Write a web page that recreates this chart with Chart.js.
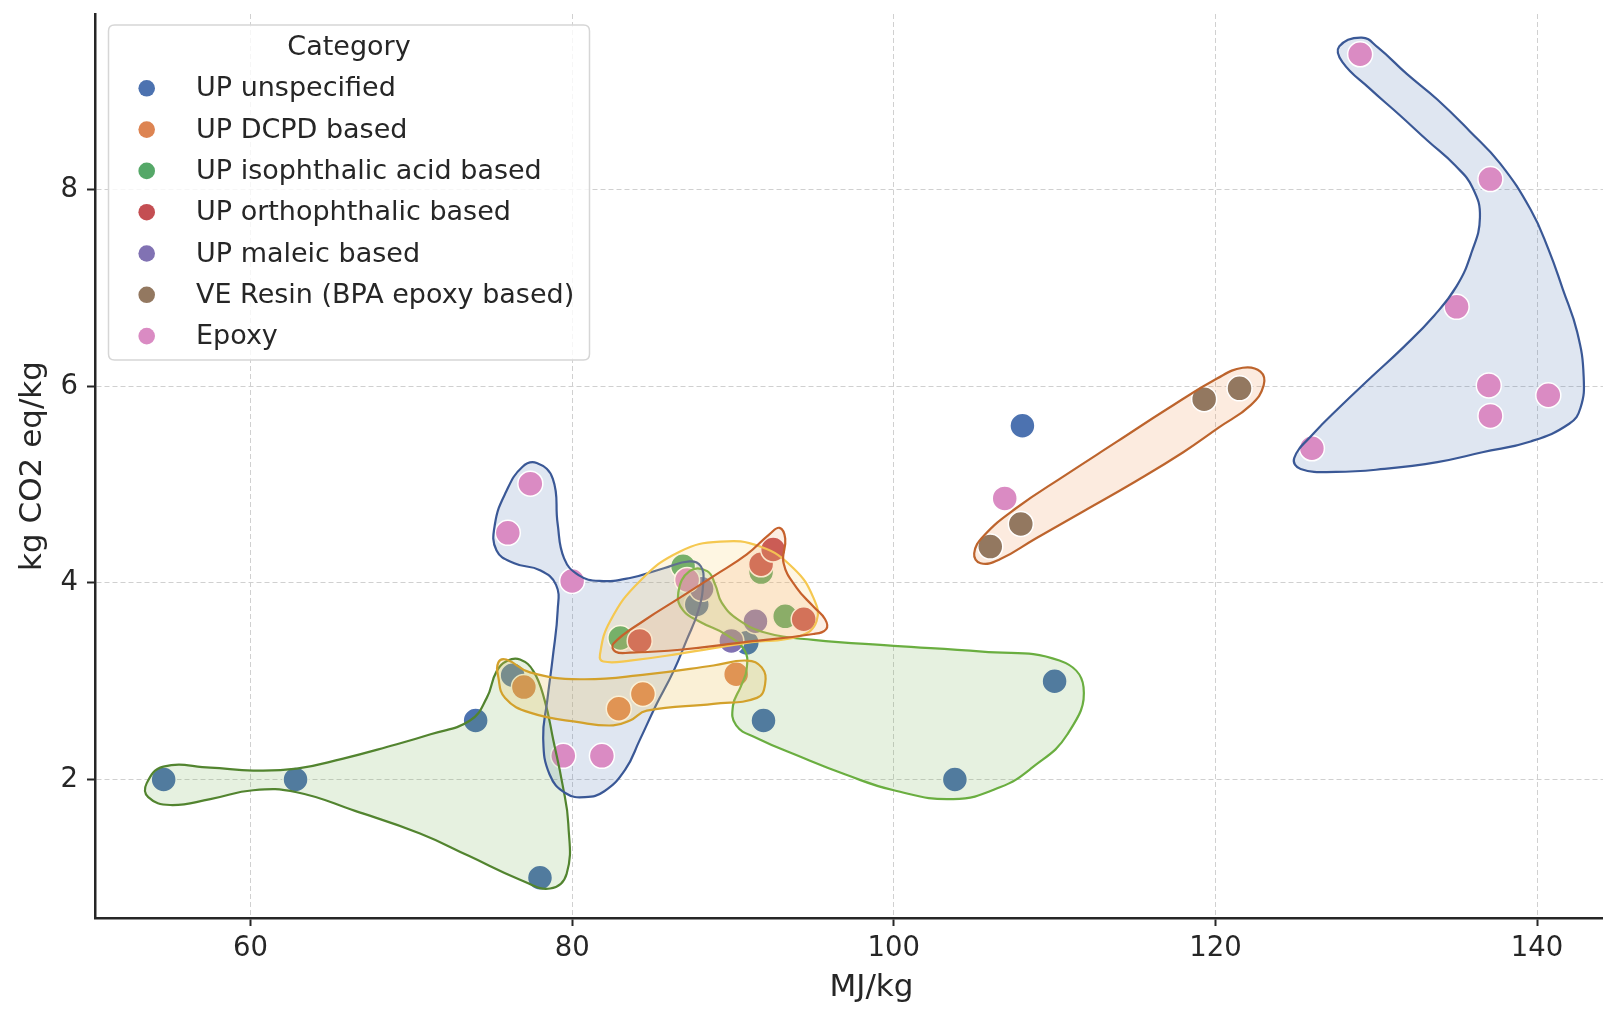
<!DOCTYPE html>
<html>
<head>
<meta charset="utf-8">
<script src="https://cdn.jsdelivr.net/npm/chart.js@4/dist/chart.umd.min.js"></script>
<style>
  html, body { margin: 0; padding: 0; background: #ffffff; overflow: hidden; width: 1603px; height: 1010px; }
  #wrap { width: 1603px; height: 1010px; overflow: hidden; position: relative; }
  canvas { display: block; }
</style>
</head>
<body>
<div id="wrap"><canvas id="c" width="1700" height="1010"></canvas></div>
<script>
// ---------------- DATA ----------------
const legendTitle = 'Category';
const categories = ['UP unspecified', 'UP DCPD based', 'UP isophthalic acid based', 'UP orthophthalic based', 'UP maleic based', 'VE Resin (BPA epoxy based)', 'Epoxy'];
const categoryColors = ['#4C72B0', '#DD8452', '#55A868', '#C44E52', '#8172B3', '#937860', '#DA8BC3'];

const upUnspecifiedX = [54.6, 62.8, 74.0, 78.0, 76.3, 87.75, 90.86, 91.9, 103.8, 110.0, 108.0];
const upUnspecifiedY = [2.0, 2.0, 2.6, 1.0, 3.06, 3.78, 3.39, 2.6, 2.0, 3.0, 5.6];
const upDcpdX = [77.0, 82.9, 84.4, 90.2];
const upDcpdY = [2.94, 2.72, 2.87, 3.07];
const upIsoX = [83.0, 86.9, 91.75, 93.25];
const upIsoY = [3.44, 4.17, 4.11, 3.66];
const upOrthoX = [84.2, 91.75, 92.5, 94.4];
const upOrthoY = [3.41, 4.19, 4.34, 3.63];
const upMaleicX = [89.9, 91.4, 88.05];
const upMaleicY = [3.41, 3.61, 3.94];
const veResinX = [106.0, 107.9, 119.3, 121.5];
const veResinY = [4.37, 4.60, 5.87, 5.98];
const epoxyX = [77.4, 76.0, 80.0, 79.45, 81.85, 87.15, 106.9, 129.0, 137.1, 135.0, 137.0, 137.1, 140.7, 126.0];
const epoxyY = [5.01, 4.51, 4.02, 2.24, 2.24, 4.03, 4.86, 9.38, 8.11, 6.81, 6.01, 5.70, 5.91, 5.37];

const xTickValues = [60, 80, 100, 120, 140];
const yTickValues = [2, 4, 6, 8];
const xLabel = 'MJ/kg';
const yLabel = 'kg CO2 eq/kg';

// group outlines (closed smooth curves), in data units
const blobEpoxyRight = [[127.7,9.46],[129.1,9.55],[130.1,9.45],[131.9,9.18],[133.8,8.92],[135.8,8.60],[137.7,8.27],[139.6,7.80],[140.7,7.40],[141.6,6.99],[142.5,6.55],[142.9,6.10],[142.7,5.78],[142.0,5.62],[139.6,5.44],[136.6,5.33],[133.8,5.23],[130.5,5.16],[127.5,5.13],[125.3,5.16],[124.9,5.27],[126.1,5.52],[127.8,5.80],[129.6,6.08],[131.7,6.40],[133.6,6.72],[135.0,7.02],[135.9,7.35],[136.45,7.72],[136.0,8.02],[134.9,8.25],[133.2,8.50],[131.4,8.77],[129.6,9.03],[127.9,9.30]];
const blobVeResin = [[105.0,4.30],[105.6,4.48],[107.6,4.76],[110.7,5.10],[113.9,5.44],[117.0,5.77],[120.1,6.08],[121.7,6.19],[122.8,6.15],[123.0,6.01],[122.2,5.81],[120.2,5.58],[118.0,5.33],[115.0,5.03],[111.8,4.73],[108.8,4.45],[106.6,4.24],[105.4,4.20]];
const blobGreenLeft = [[53.54,1.96],[54.58,2.13],[57.5,2.12],[60.17,2.09],[62.87,2.11],[65.7,2.21],[68.47,2.33],[71.2,2.46],[73.65,2.60],[74.69,2.83],[75.3,3.10],[76.0,3.21],[76.76,3.22],[77.6,3.10],[78.3,2.80],[78.83,2.40],[79.4,1.95],[79.76,1.55],[79.66,1.04],[78.63,0.89],[76.76,0.98],[73.6,1.22],[70.54,1.45],[66.5,1.68],[62.87,1.87],[60.17,1.89],[57.5,1.80],[55.0,1.74],[53.64,1.82]];
const blobGreenRight = [[87.3,4.12],[88.4,4.12],[88.9,3.98],[89.3,3.80],[90.3,3.63],[92.1,3.49],[95.0,3.42],[100.0,3.36],[105.5,3.30],[110.3,3.21],[111.8,2.94],[110.8,2.46],[108.6,2.12],[106.6,1.92],[103.7,1.80],[100.0,1.89],[97.0,2.05],[94.2,2.23],[91.5,2.42],[90.2,2.55],[90.0,2.75],[90.5,2.95],[90.85,3.12],[90.7,3.32],[89.5,3.48],[88.0,3.60],[86.9,3.72],[86.6,3.90]];
const blobBlueLeft = [[77.8,5.22],[78.8,5.06],[79.1,4.60],[79.5,4.25],[80.4,4.08],[81.7,4.02],[83.6,4.05],[85.7,4.15],[87.3,4.22],[88.0,4.17],[88.15,4.00],[87.85,3.72],[87.1,3.41],[86.3,3.10],[85.2,2.75],[84.2,2.40],[83.3,2.10],[82.0,1.88],[80.8,1.82],[79.6,1.86],[78.6,2.05],[78.2,2.42],[78.45,2.80],[78.8,3.25],[79.1,3.72],[79.0,3.98],[78.0,4.13],[76.4,4.20],[75.3,4.33],[75.2,4.60],[75.9,4.93],[76.9,5.18]];
const blobDcpd = [[75.41,3.19],[75.9,3.22],[77.38,3.09],[80.49,3.02],[84.64,3.07],[88.78,3.16],[90.86,3.21],[91.79,3.14],[92.0,2.97],[91.49,2.83],[88.78,2.77],[84.64,2.70],[83.6,2.60],[82.56,2.55],[80.49,2.58],[77.38,2.68],[75.83,2.83],[75.41,3.04]];
const blobYellow = [[81.73,3.27],[82.36,3.61],[84.22,4.02],[86.71,4.32],[89.2,4.42],[91.69,4.37],[93.76,4.15],[95.0,3.85],[95.2,3.61],[94.17,3.46],[90.86,3.39],[86.71,3.28],[83.6,3.21],[81.94,3.20]];
const blobRed = [[82.56,3.38],[84.5,3.62],[86.71,3.85],[88.8,4.07],[90.86,4.29],[92.3,4.50],[92.9,4.56],[93.25,4.45],[93.15,4.20],[93.96,3.95],[95.0,3.76],[95.73,3.63],[95.8,3.53],[95.0,3.48],[90.86,3.40],[86.71,3.32],[83.6,3.29],[82.7,3.30]];

// ---------------- BUILD ----------------
const seriesX = [upUnspecifiedX, upDcpdX, upIsoX, upOrthoX, upMaleicX, veResinX, epoxyX];
const seriesY = [upUnspecifiedY, upDcpdY, upIsoY, upOrthoY, upMaleicY, veResinY, epoxyY];

const blobs = [
  { pts: blobEpoxyRight, stroke: '#3a5896', fill: 'rgba(76,114,176,0.18)', under: true },
  { pts: blobVeResin,    stroke: '#bd642d', fill: 'rgba(240,165,110,0.22)', under: true },
  { pts: blobGreenLeft,  stroke: '#52842f', fill: 'rgba(106,170,70,0.17)', under: false },
  { pts: blobGreenRight, stroke: '#6aae40', fill: 'rgba(106,170,70,0.17)', under: false },
  { pts: blobBlueLeft,   stroke: '#3a5896', fill: 'rgba(76,114,176,0.18)', under: true },
  { pts: blobDcpd,       stroke: '#d3a12b', fill: 'rgba(235,195,90,0.25)', under: false },
  { pts: blobYellow,     stroke: '#f5c850', fill: 'rgba(250,210,110,0.2)', under: false },
  { pts: blobRed,        stroke: '#c6612c', fill: 'rgba(240,160,100,0.18)', under: false }
];

const datasets = [];
categories.forEach((name, i) => {
  datasets.push({
    type: 'scatter',
    label: name,
    data: seriesX[i].map((x, k) => ({ x: x, y: seriesY[i][k] })),
    backgroundColor: categoryColors[i],
    borderColor: '#ffffff',
    borderWidth: 1.5,
    pointRadius: 12.5,
    pointHoverRadius: 12.5,
    order: 20 - i
  });
});
blobs.forEach((b, i) => {
  const pts = b.pts.map(p => ({ x: p[0], y: p[1] }));
  if (b.under) {
    datasets.push({
      type: 'line', label: 'groupfill' + i, isBlob: true, data: pts,
      borderColor: 'rgba(0,0,0,0)', backgroundColor: b.fill, borderWidth: 0,
      pointRadius: 0, pointHoverRadius: 0, tension: 0.45, fill: 'shape', order: 40 - i
    });
  }
  datasets.push({
    type: 'line',
    label: 'group' + i,
    isBlob: true,
    data: pts,
    borderColor: b.stroke,
    backgroundColor: b.fill,
    borderWidth: 2.2,
    pointRadius: 0,
    pointHoverRadius: 0,
    tension: 0.45,
    fill: b.under ? false : 'shape',
    order: 8 - i
  });
});

// make the group outlines closed loops
const loopPlugin = {
  id: 'loopBlobs',
  afterDatasetUpdate(chart, args) {
    const ds = chart.data.datasets[args.index];
    if (ds && ds.isBlob) {
      const line = args.meta.dataset;
      line._loop = true;
      line._fullLoop = true;
      delete line._segments;
      delete line._path;
      line._pointsUpdated = false;
    }
  }
};

// legend drawn in matplotlib style
const legendPlugin = {
  id: 'mplLegend',
  afterDraw(chart) {
    const ctx = chart.ctx;
    const bx = 108.5, by = 25, bw = 481, bh = 335, r = 6;
    ctx.save();
    ctx.beginPath();
    ctx.moveTo(bx + r, by);
    ctx.lineTo(bx + bw - r, by);
    ctx.quadraticCurveTo(bx + bw, by, bx + bw, by + r);
    ctx.lineTo(bx + bw, by + bh - r);
    ctx.quadraticCurveTo(bx + bw, by + bh, bx + bw - r, by + bh);
    ctx.lineTo(bx + r, by + bh);
    ctx.quadraticCurveTo(bx, by + bh, bx, by + bh - r);
    ctx.lineTo(bx, by + r);
    ctx.quadraticCurveTo(bx, by, bx + r, by);
    ctx.closePath();
    ctx.fillStyle = 'rgba(255,255,255,0.8)';
    ctx.fill();
    ctx.lineWidth = 1.5;
    ctx.strokeStyle = '#d6d6d6';
    ctx.stroke();

    ctx.font = '27px "DejaVu Sans"';
    ctx.fillStyle = '#262626';
    ctx.textBaseline = 'middle';
    ctx.textAlign = 'center';
    ctx.fillText(legendTitle, bx + bw / 2, 48);
    ctx.textAlign = 'left';
    categories.forEach((name, i) => {
      const y = 88.3 + i * 41.3;
      ctx.beginPath();
      ctx.arc(146.7, y, 8.3, 0, Math.PI * 2);
      ctx.fillStyle = categoryColors[i];
      ctx.fill();
      ctx.fillStyle = '#262626';
      ctx.fillText(name, 196, y + 1);
    });
    ctx.restore();
  }
};

const tickFont = { family: 'DejaVu Sans', size: 27.5 };
const titleFont = { family: 'DejaVu Sans', size: 31 };

new Chart(document.getElementById('c'), {
  type: 'scatter',
  data: { datasets: datasets },
  options: {
    responsive: false,
    animation: false,
    devicePixelRatio: 1,
    layout: { padding: { top: 10, right: 52, left: 0, bottom: 0 } },
    plugins: { legend: { display: false }, tooltip: { enabled: false } },
    scales: {
      x: {
        type: 'linear',
        min: 50.33,
        max: 146.9,
        afterBuildTicks: s => { s.ticks = xTickValues.map(v => ({ value: v })); },
        afterFit: s => { s.height = 92; s.paddingLeft = 0; s.paddingRight = 0; },
        grid: { color: '#d0d0d0', lineWidth: 1, tickLength: 8, tickColor: '#262626', tickWidth: 2 },
        border: { color: '#262626', width: 2.5, dash: [5, 3] },
        ticks: { font: tickFont, color: '#262626', padding: 6, maxRotation: 0 },
        title: { display: true, text: xLabel, font: titleFont, color: '#262626', padding: { top: 0, bottom: 3 } }
      },
      y: {
        type: 'linear',
        min: 0.59,
        max: 9.79,
        afterBuildTicks: s => { s.ticks = yTickValues.map(v => ({ value: v })); },
        afterFit: s => { s.width = 95; s.paddingTop = 0; s.paddingBottom = 0; },
        grid: { color: '#d0d0d0', lineWidth: 1, tickLength: 8, tickColor: '#262626', tickWidth: 2 },
        border: { color: '#262626', width: 2.5, dash: [5, 3] },
        ticks: { font: tickFont, color: '#262626', padding: 9 },
        title: { display: true, text: yLabel, font: titleFont, color: '#262626', padding: { top: 14, bottom: 0 } }
      }
    }
  },
  plugins: [loopPlugin, legendPlugin]
});
</script>
</body>
</html>
